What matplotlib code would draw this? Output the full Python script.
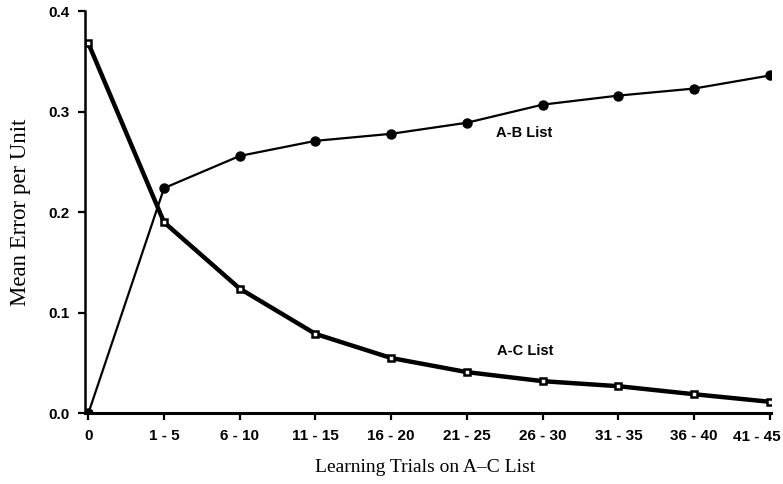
import numpy as np
import matplotlib
matplotlib.use('Agg')
import matplotlib.pyplot as plt

# data
trial_labels = ['0', '1 - 5', '6 - 10', '11 - 15', '16 - 20', '21 - 25',
                '26 - 30', '31 - 35', '36 - 40', '41 - 45']
ab_error = [0.0, 0.224, 0.256, 0.271, 0.278, 0.289, 0.307, 0.316, 0.323, 0.336]
ac_error = [0.368, 0.190, 0.124, 0.079, 0.055, 0.041, 0.032, 0.027, 0.019, 0.0115]

x = np.arange(len(trial_labels))

fig = plt.figure(figsize=(7.83, 4.84), dpi=100)
ax = fig.add_axes([0.108, 0.146, 0.877, 0.831])

ax.plot(x, ab_error, color='black', lw=1.6, marker='o', ms=6.5,
        mfc='black', mec='black', zorder=3)
ax.plot(x, ac_error, color='black', lw=3.2, marker='s', ms=5,
        mfc='white', mec='black', mew=1.8, zorder=4)

ax.text(5.75, 0.279, 'A-B List', fontsize=10.5, fontweight='bold',
        family='Liberation Sans', ha='center', va='center')
ax.text(5.77, 0.062, 'A-C List', fontsize=10.5, fontweight='bold',
        family='Liberation Sans', ha='center', va='center')

ax.set_xlim(-0.05, 9.02)
ax.set_ylim(0, 0.4)
ax.set_xticks(x)
# last label is drawn a bit left of its tick so it stays inside the figure
ax.set_xticklabels(trial_labels[:-1] + [''])
ax.annotate(trial_labels[-1], xy=(x[-1], 0), xycoords=('data', 'axes fraction'),
            xytext=(11, -24), textcoords='offset pixels', ha='right',
            va='center', family='Liberation Sans', fontweight='bold',
            fontsize=11, annotation_clip=False)
ax.set_yticks([0.0, 0.1, 0.2, 0.3, 0.4])
ax.set_yticklabels(['0.0', '0.1', '0.2', '0.3', '0.4'])

for lab in ax.get_xticklabels() + ax.get_yticklabels():
    lab.set_family('Liberation Sans')
    lab.set_fontweight('bold')
    lab.set_fontsize(11)

ax.tick_params(direction='out', length=5, width=1.6, colors='black', pad=6)
ax.spines['top'].set_visible(False)
ax.spines['right'].set_visible(False)
ax.spines['left'].set_linewidth(1.8)
ax.spines['bottom'].set_linewidth(2.2)
ax.spines['left'].set_zorder(5)

ax.set_ylabel('Mean Error per Unit', family='Liberation Serif', fontsize=16.5,
              va='center')
ax.set_xlabel('Learning Trials on A\u2013C List', family='Liberation Serif',
              fontsize=14, va='center')
ax.yaxis.set_label_coords(-0.093, 0.5)
ax.xaxis.set_label_coords(0.496, -0.134)

fig.savefig('out.png', dpi=100)
